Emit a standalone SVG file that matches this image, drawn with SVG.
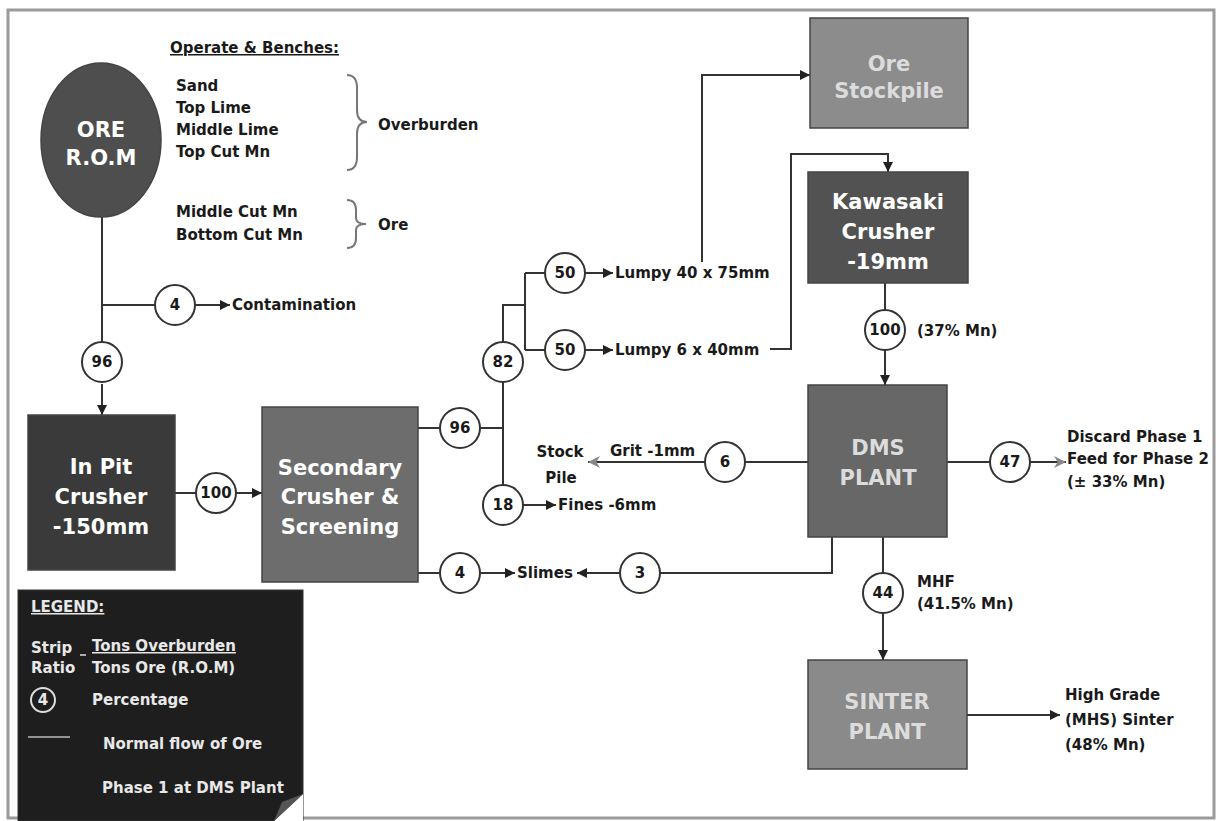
<svg xmlns="http://www.w3.org/2000/svg" width="1219" height="821" viewBox="0 0 1219 821">
<defs>
<style>
.t{font-family:"DejaVu Sans","Liberation Sans",sans-serif;font-weight:bold;font-size:15px;fill:#1a1a1a}
.bt{font-family:"DejaVu Sans","Liberation Sans",sans-serif;font-weight:bold;font-size:21px;fill:#ffffff;text-anchor:middle}
.lt{fill:#dcdcdc}
.lg{font-family:"DejaVu Sans","Liberation Sans",sans-serif;font-weight:bold;font-size:15px;fill:#e8e8e8}
.ln{fill:none;stroke:#333;stroke-width:2}
.gl{fill:none;stroke:#8a8a8a;stroke-width:3}
.pc circle{fill:#fff;stroke:#333;stroke-width:2}
.pc text{font-family:"DejaVu Sans","Liberation Sans",sans-serif;font-weight:bold;font-size:15px;fill:#1a1a1a;text-anchor:middle}
.box{stroke:#444;stroke-width:1.5}
.br{fill:none;stroke:#777;stroke-width:2}
</style>
<marker id="ah" viewBox="0 0 10 10" refX="10" refY="5" markerWidth="10" markerHeight="10" markerUnits="userSpaceOnUse" orient="auto"><path d="M0,0 L10,5 L0,10 z" fill="#222"/></marker>
<marker id="ag" viewBox="0 0 10 10" refX="10" refY="5" markerWidth="14" markerHeight="12" markerUnits="userSpaceOnUse" orient="auto"><path d="M0,0 L10,5 L0,10 L3,5 z" fill="#888"/></marker>
</defs>
<rect x="0" y="0" width="1219" height="821" fill="#ffffff"/>
<rect x="8" y="10" width="1206" height="808" fill="none" stroke="#9a9a9a" stroke-width="3"/>

<g id="connectors">
<path class="ln" d="M102,217 V342"/>
<path class="ln" d="M102,305 H155"/>
<path class="ln" d="M195,305 H230" marker-end="url(#ah)"/>
<path class="ln" d="M102,384 V415" marker-end="url(#ah)"/>
<path class="ln" d="M175,493 H196"/>
<path class="ln" d="M236,493 H262" marker-end="url(#ah)"/>
<path class="ln" d="M418,428 H440"/>
<path class="ln" d="M480,428 H503"/>
<path class="ln" d="M503,382 V485"/>
<path class="ln" d="M503,342 V305 H525"/>
<path class="ln" d="M525,273 V350"/>
<path class="ln" d="M525,273 H545"/>
<path class="ln" d="M525,350 H545"/>
<path class="ln" d="M585,273 H613" marker-end="url(#ah)"/>
<path class="ln" d="M585,350 H613" marker-end="url(#ah)"/>
<path class="ln" d="M702,262 V75 H810" marker-end="url(#ah)"/>
<path class="ln" d="M770,349 H791 V154 H888 V172" marker-end="url(#ah)"/>
<path class="ln" d="M885,283 V310"/>
<path class="ln" d="M885,350 V385" marker-end="url(#ah)"/>
<path class="ln" d="M947,462 H990"/>
<path class="ln" d="M1030,462 H1066" stroke="#777" marker-end="url(#ag)"/>
<path class="ln" d="M810,462 H745"/>
<path class="ln" d="M705,462 H588" stroke="#666" marker-end="url(#ag)"/>
<path class="ln" d="M523,505 H556" marker-end="url(#ah)"/>
<path class="ln" d="M418,573 H440"/>
<path class="ln" d="M480,573 H515" marker-end="url(#ah)"/>
<path class="ln" d="M832,537 V573 H660"/>
<path class="ln" d="M620,573 H577" marker-end="url(#ah)"/>
<path class="ln" d="M883,537 V573"/>
<path class="ln" d="M883,613 V660" marker-end="url(#ah)"/>
<path class="ln" d="M967,715 H1060" marker-end="url(#ah)"/>
</g>

<g id="ore-rom">
<ellipse cx="101" cy="140" rx="60" ry="77" fill="#4e4e4e" stroke="#444" stroke-width="1.5"/>
<text class="bt" x="101" y="137">ORE</text>
<text class="bt" x="101" y="165">R.O.M</text>
</g>

<g id="benches">
<text class="t" x="170" y="53" text-decoration="underline">Operate &amp; Benches:</text>
<text class="t" x="176" y="91">Sand</text>
<text class="t" x="176" y="113">Top Lime</text>
<text class="t" x="176" y="135">Middle Lime</text>
<text class="t" x="176" y="157">Top Cut Mn</text>
<text class="t" x="176" y="217">Middle Cut Mn</text>
<text class="t" x="176" y="240">Bottom Cut Mn</text>
<path class="br" d="M347,75 Q357,75 357,88 L357,110 Q357,122 367,122 Q357,122 357,134 L357,157 Q357,170 347,170"/>
<text class="t" x="378" y="130">Overburden</text>
<path class="br" d="M347,200 Q356,200 356,210 L356,218 Q356,224 366,224 Q356,224 356,230 L356,238 Q356,248 347,248"/>
<text class="t" x="378" y="230">Ore</text>
</g>

<g id="in-pit-crusher">
<rect class="box" x="28" y="415" width="147" height="155" fill="#3a3a3a"/>
<text class="bt" x="101" y="474">In Pit</text>
<text class="bt" x="101" y="504">Crusher</text>
<text class="bt" x="101" y="534">-150mm</text>
</g>

<g id="secondary-crusher">
<rect class="box" x="262" y="407" width="156" height="175" fill="#6d6d6d"/>
<text class="bt" x="340" y="475">Secondary</text>
<text class="bt" x="340" y="504">Crusher &amp;</text>
<text class="bt" x="340" y="534">Screening</text>
</g>

<g id="ore-stockpile">
<rect class="box" x="810" y="18" width="158" height="110" fill="#8c8c8c" stroke="#777"/>
<text class="bt lt" x="889" y="71">Ore</text>
<text class="bt lt" x="889" y="98">Stockpile</text>
</g>

<g id="kawasaki-crusher">
<rect class="box" x="808" y="172" width="160" height="111" fill="#525252"/>
<text class="bt" x="888" y="209">Kawasaki</text>
<text class="bt" x="888" y="239">Crusher</text>
<text class="bt" x="888" y="269">-19mm</text>
</g>

<g id="dms-plant">
<rect class="box" x="808" y="385" width="139" height="152" fill="#676767"/>
<text class="bt lt" x="878" y="455">DMS</text>
<text class="bt lt" x="878" y="485">PLANT</text>
</g>

<g id="sinter-plant">
<rect class="box" x="808" y="660" width="159" height="109" fill="#8a8a8a" stroke="#777"/>
<text class="bt lt" x="887" y="709">SINTER</text>
<text class="bt lt" x="887" y="739">PLANT</text>
</g>

<g id="flow-labels">
<text class="t" x="232" y="310">Contamination</text>
<text class="t" x="615" y="278">Lumpy 40 x 75mm</text>
<text class="t" x="615" y="355">Lumpy 6 x 40mm</text>
<text class="t" x="610" y="456">Grit -1mm</text>
<text class="t" x="560" y="457" text-anchor="middle">Stock</text>
<text class="t" x="561" y="483" text-anchor="middle">Pile</text>
<text class="t" x="558" y="510">Fines -6mm</text>
<text class="t" x="517" y="578">Slimes</text>
<text class="t" x="917" y="336">(37% Mn)</text>
<text class="t" x="1067" y="442">Discard Phase 1</text>
<text class="t" x="1067" y="464">Feed for Phase 2</text>
<text class="t" x="1067" y="487">(± 33% Mn)</text>
<text class="t" x="917" y="587" font-size="12">MHF</text>
<text class="t" x="917" y="609">(41.5% Mn)</text>
<text class="t" x="1065" y="700">High Grade</text>
<text class="t" x="1065" y="725">(MHS) Sinter</text>
<text class="t" x="1065" y="750">(48% Mn)</text>
</g>

<g id="percentages" class="pc">
<g id="p-contamination"><circle cx="175" cy="305" r="20"/><text x="175" y="310">4</text></g>
<g id="p-96a"><circle cx="102" cy="362" r="20"/><text x="102" y="367">96</text></g>
<g id="p-100a"><circle cx="216" cy="493" r="20"/><text x="216" y="498">100</text></g>
<g id="p-96b"><circle cx="460" cy="428" r="20"/><text x="460" y="433">96</text></g>
<g id="p-82"><circle cx="503" cy="362" r="20"/><text x="503" y="367">82</text></g>
<g id="p-50a"><circle cx="565" cy="273" r="20"/><text x="565" y="278">50</text></g>
<g id="p-50b"><circle cx="565" cy="350" r="20"/><text x="565" y="355">50</text></g>
<g id="p-18"><circle cx="503" cy="505" r="20"/><text x="503" y="510">18</text></g>
<g id="p-4b"><circle cx="460" cy="573" r="20"/><text x="460" y="578">4</text></g>
<g id="p-3"><circle cx="640" cy="573" r="20"/><text x="640" y="578">3</text></g>
<g id="p-6"><circle cx="725" cy="462" r="20"/><text x="725" y="467">6</text></g>
<g id="p-100b"><circle cx="885" cy="330" r="20"/><text x="885" y="335">100</text></g>
<g id="p-47"><circle cx="1010" cy="462" r="20"/><text x="1010" y="467">47</text></g>
<g id="p-44"><circle cx="883" cy="593" r="20"/><text x="883" y="598">44</text></g>
</g>

<g id="legend">
<rect x="18" y="590" width="285" height="231" fill="#1e1e1e" stroke="#333"/>
<text class="lg" x="31" y="612" font-size="18" text-decoration="underline">LEGEND:</text>
<text class="lg" x="31" y="653">Strip</text>
<line x1="80" y1="655" x2="86" y2="655" stroke="#ddd" stroke-width="1.5"/>
<text class="lg" x="92" y="651" text-decoration="underline">Tons Overburden</text>
<text class="lg" x="31" y="673">Ratio</text>
<text class="lg" x="92" y="673">Tons Ore (R.O.M)</text>
<circle cx="43" cy="700" r="12" fill="none" stroke="#ddd" stroke-width="2"/>
<text class="lg" x="43" y="705" text-anchor="middle">4</text>
<text class="lg" x="92" y="705">Percentage</text>
<line x1="28" y1="737" x2="70" y2="737" stroke="#bbb" stroke-width="1.5"/>
<text class="lg" x="103" y="749">Normal flow of Ore</text>
<text class="lg" x="102" y="793">Phase 1 at DMS Plant</text>
<polygon points="274,821 303,794 303,821" fill="#ffffff"/>
<polygon points="274,821 303,794 282,802" fill="#555"/>
</g>
</svg>
